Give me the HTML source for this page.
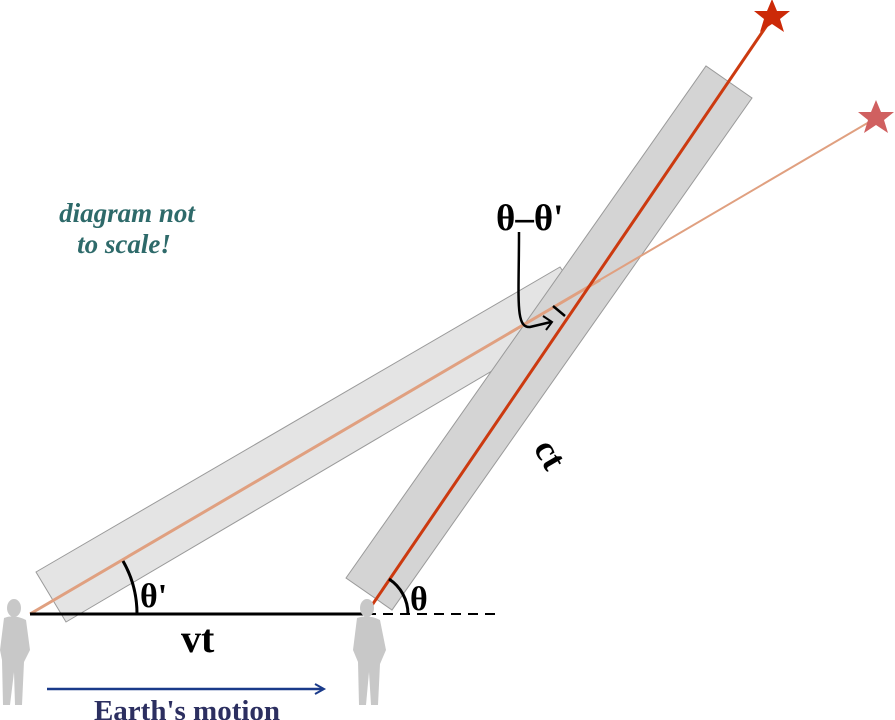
<!DOCTYPE html>
<html><head><meta charset="utf-8"><style>
html,body{margin:0;padding:0;background:#fff;}
svg{display:block;font-family:"Liberation Serif",serif;}
</style></head><body>
<svg width="895" height="720" viewBox="0 0 895 720">
<polygon points="36,572 560,267 592,312 66,622" fill="#e4e4e4" stroke="#9a9a9a" stroke-width="1"/>
<polygon points="346,578 706,66 752,98 392,610" fill="#d4d4d4" stroke="#9a9a9a" stroke-width="1"/>
<line x1="30" y1="614" x2="600" y2="280" stroke="#e0a080" stroke-width="3"/>
<line x1="598" y1="281" x2="876" y2="118" stroke="#e0a080" stroke-width="2"/>
<line x1="366" y1="614" x2="776" y2="12" stroke="#cc3a10" stroke-width="3"/>
<polygon transform="translate(772,17)" points="0,-18 5,-6 18,-6 8,2 12,15 0,7 -12,15 -8,2 -18,-6 -5,-6" fill="#cc2a08"/>
<polygon transform="translate(876,118)" points="0,-18 5,-6 18,-6 8,2 12,15 0,7 -12,15 -8,2 -18,-6 -5,-6" fill="#d06060"/>
<line x1="30" y1="614" x2="366" y2="614" stroke="#000" stroke-width="3"/>
<line x1="366" y1="614" x2="496" y2="614" stroke="#000" stroke-width="2" stroke-dasharray="10,7"/>
<path d="M137,614 A107,107 0 0 0 123,561" fill="none" stroke="#000" stroke-width="3"/>
<path d="M408,614 A42,42 0 0 0 389,579" fill="none" stroke="#000" stroke-width="3"/>
<path d="M519,232 C519,300 515,328 530,327 L551,322" fill="none" stroke="#000" stroke-width="2.5"/>
<path d="M543,316 L552,322 L546,330" fill="none" stroke="#000" stroke-width="2"/>
<path d="M553,306 L565,316" stroke="#000" stroke-width="2.5"/>
<text x="127" y="222" text-anchor="middle" font-size="27" font-weight="bold" font-style="italic" fill="#2e6a6a">diagram not</text>
<text x="124" y="253" text-anchor="middle" font-size="27" font-weight="bold" font-style="italic" fill="#2e6a6a">to scale!</text>
<text x="496" y="230" font-size="37" font-weight="bold">θ–θ'</text>
<text x="0" y="0" font-size="36" font-weight="bold" transform="translate(533,448) rotate(60)">ct</text>
<text x="140" y="607" font-size="34" font-weight="bold">θ'</text>
<text x="410" y="610" font-size="34" font-weight="bold">θ</text>
<text x="181" y="652" font-size="40" font-weight="bold">vt</text>
<line x1="47" y1="689" x2="322" y2="689" stroke="#1a3a8a" stroke-width="2.5"/>
<path d="M315,684 L324,689 L315,694" fill="none" stroke="#1a3a8a" stroke-width="2"/>
<text x="187" y="720" text-anchor="middle" font-size="29" font-weight="bold" fill="#2c2f60">Earth's motion</text>
<g fill="#c8c8c8">
<ellipse cx="14" cy="608" rx="7" ry="9"/>
<path d="M4,618 Q14,614 26,620 L30,650 L24,662 L22,705 L15,705 L14,672 L10,705 L3,705 L2,660 L0,650 Z"/>
</g>
<g fill="#c8c8c8">
<ellipse cx="367" cy="608" rx="7" ry="9"/>
<path d="M357,618 Q368,614 380,620 L386,650 L380,664 L378,705 L371,705 L369,672 L366,705 L359,705 L358,662 L353,650 Z"/>
</g>
</svg>
</body></html>
